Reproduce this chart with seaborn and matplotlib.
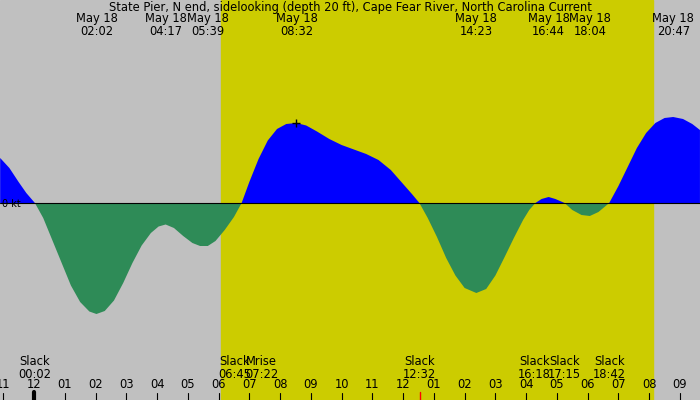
import numpy as np
import seaborn as sns
import matplotlib.pyplot as plt

# hours after midnight May 18, current in knots (+ flood, - ebb)
hours = [-1.1, -0.8, -0.5, -0.25, 0.03, 0.3, 0.6, 0.9, 1.2, 1.5, 1.8, 2.03, 2.3, 2.6, 2.9,
         3.2, 3.5, 3.8, 4.05, 4.28, 4.55, 4.85, 5.15, 5.4, 5.65, 5.9, 6.2, 6.5, 6.75,
         7.0, 7.3, 7.6, 7.9, 8.2, 8.53, 8.85, 9.2, 9.6, 10.0, 10.4, 10.8, 11.2, 11.6, 12.0,
         12.3, 12.53, 12.8, 13.1, 13.4, 13.7, 14.0, 14.38, 14.7, 15.0, 15.3, 15.6, 15.9,
         16.1, 16.3, 16.5, 16.73, 16.95, 17.25, 17.5, 17.8, 18.07, 18.35, 18.7,
         19.0, 19.3, 19.6, 19.9, 20.2, 20.5, 20.78, 21.1, 21.4, 21.65]
knots = [0.90, 0.70, 0.42, 0.20, 0.0, -0.30, -0.75, -1.20, -1.65, -1.98, -2.17, -2.22, -2.16,
         -1.95, -1.60, -1.20, -0.85, -0.60, -0.47, -0.43, -0.50, -0.66, -0.80, -0.86, -0.86,
         -0.76, -0.54, -0.28, 0.0,
         0.42, 0.88, 1.25, 1.48, 1.58, 1.60, 1.55, 1.43, 1.28, 1.16, 1.07, 0.98, 0.86, 0.66,
         0.38, 0.17, 0.0, -0.30, -0.68, -1.10, -1.45, -1.70, -1.80, -1.72, -1.45, -1.08,
         -0.70, -0.34, -0.14, 0.0, 0.08, 0.12, 0.08, 0.0, -0.14, -0.24, -0.26, -0.18, 0.0,
         0.34, 0.72, 1.10, 1.40, 1.60, 1.70, 1.72, 1.68, 1.58, 1.46]

events_top = ["02:02", "04:17", "05:39", "08:32", "14:23", "16:44", "18:04", "20:47"]
events_bottom = [("Slack", "00:02"), ("Slack", "06:45"), ("Mrise", "07:22"), ("Slack", "12:32"),
                 ("Slack", "16:18"), ("Slack", "17:15"), ("Slack", "18:42")]
bottom_shift = [0, -7, 1, 0, -1, 0, 0]  # small pixel nudges so labels don't collide
hour_labels = ["11", "12", "01", "02", "03", "04", "05", "06", "07", "08", "09", "10", "11",
               "12", "01", "02", "03", "04", "05", "06", "07", "08", "09"]
sun_up, sun_down = 6.08, 20.12
px_per_hour = 30.76


def to_h(s):
    hh, mm = s.split(":")
    return int(hh) + int(mm) / 60


sns.set_style("white")
plt.rcParams['font.family'] = ['DejaVu Sans']
plt.rcParams['text.color'] = 'black'

fig = plt.figure(figsize=(7, 4), dpi=100)
ax = fig.add_axes([0, 0, 1, 1])
ax.set_facecolor("#c0c0c0")
x0, x1 = -34 / px_per_hour, 666 / px_per_hour
ax.set_xlim(x0, x1)
ax.set_ylim(-3.94, 4.06)
ax.axis("off")
ax.add_patch(plt.Rectangle((x0, -3.94), x1 - x0, 8, color="#c0c0c0", zorder=0))
ax.axvspan(sun_up, sun_down, color="#cccc00", zorder=1)

h = np.array(hours)
k = np.array(knots)
ax.fill_between(h, 0, k, where=k >= 0, interpolate=True, color="#0000ff", lw=0, zorder=2)
ax.fill_between(h, 0, k, where=k <= 0, interpolate=True, color="#2e8b57", lw=0, zorder=2)
ax.axhline(0, color="black", lw=0.8, zorder=3)
ax.plot([to_h("08:32")], [1.6], marker="+", color="black", ms=6, zorder=4)

tr = ax.get_xaxis_transform()
fs = 8.3


def ypos(px):
    return 1 - px / 400


ax.text(0.5, ypos(8), "State Pier, N end, sidelooking (depth 20 ft), Cape Fear River, North Carolina Current",
        transform=ax.transAxes, ha="center", va="center", fontsize=fs)
ax.text(0.003, ypos(204), "0 kt", transform=ax.transAxes, ha="left", va="center", fontsize=7)
for t in events_top:
    ax.text(to_h(t), ypos(25), "May 18\n" + t, transform=tr, ha="center", va="center",
            fontsize=fs, linespacing=0.95)
for (name, t), dx in zip(events_bottom, bottom_shift):
    ax.text(to_h(t) + dx / px_per_hour, ypos(368), name + "\n" + t, transform=tr,
            ha="center", va="center", fontsize=fs, linespacing=0.95)
for i, lab in enumerate(hour_labels):
    ax.text(i - 1, ypos(385), lab, transform=tr, ha="center", va="center", fontsize=fs)
    ax.plot([i - 1, i - 1], [ypos(393), 0], transform=tr, color="black", lw=0.8, zorder=5)
ax.plot([0, 0], [ypos(392), 0], transform=tr, color="black", lw=3, zorder=5)
ax.plot([to_h("12:32")] * 2, [ypos(392), 0], transform=tr, color="red", lw=1, zorder=5)

fig.savefig("out.png", dpi=100)
